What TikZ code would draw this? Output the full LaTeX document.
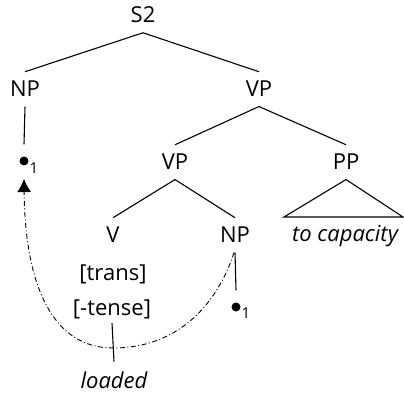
\documentclass[tikz,border=0pt]{standalone}
\usepackage{fontspec}
\setmainfont{Open Sans}
\usetikzlibrary{arrows.meta}
\begin{document}
\begin{tikzpicture}[x=1pt,y=-1pt, line width=1.1pt,
  lab/.style={anchor=base, inner xsep=0pt, inner ysep=9pt, font=\fontsize{22}{26}\selectfont},
  dot/.style={circle, fill, inner sep=0pt, minimum size=9pt},
  sub/.style={font=\fontsize{15}{17}\selectfont, inner sep=0pt},
  trace/.style={dash pattern=on 5pt off 2.5pt on 1pt off 2.5pt, line width=0.9pt}]
\useasboundingbox (0,0) rectangle (404,395);
% labels
\node[lab] (S2) at (143,23) {S2};
\node[lab] (NP) at (25,97) {NP};
\node[lab] (VP) at (259,97) {VP};
\node[lab] (VP2) at (175,170) {VP};
\node[lab] (PP) at (346,170) {PP};
\node[lab] (V) at (113,243) {V};
\node[lab] (NP2) at (235,243) {NP};
\node[lab] (tocap) at (345,242) {\itshape to capacity};
\node[lab] (trans) at (113,280) {[trans]};
\node[lab] (tense) at (112,315) {[-tense]};
\node[lab] (loaded) at (114,388) {\itshape loaded};
\node[dot] (b1) at (24,161) {};
\node[sub] (s1) at (34,168) {1};
\node[dot] (b2) at (236,307) {};
\node[sub] (s2) at (246,313) {1};
\coordinate (tl) at (284,217);
\coordinate (tr) at (403,217);
% tree
\draw (S2.south) -- (NP.north);
\draw (S2.south) -- (VP.north);
\draw (VP.south) -- (VP2.north);
\draw (VP.south) -- (PP.north);
\draw (VP2.south) -- (V.north);
\draw (VP2.south) -- (NP2.north);
\draw (PP.south) -- (tl) -- (tr) -- cycle;
\draw (NP.south) -- ([yshift=11.5pt]b1.north);
\draw (NP2.south) -- ([yshift=11.5pt]b2.north);
\draw ([yshift=5pt]tense.south) -- (loaded.north);
% movement trace
\draw[trace, -{Latex[length=13pt,width=14pt]}] ([xshift=-1pt]NP2.south)
  .. controls (218,302) and (180,348) .. (113,348)
  .. controls (55,348) and (25,290) .. ([yshift=-13pt]b1.south);
\end{tikzpicture}
\end{document}
